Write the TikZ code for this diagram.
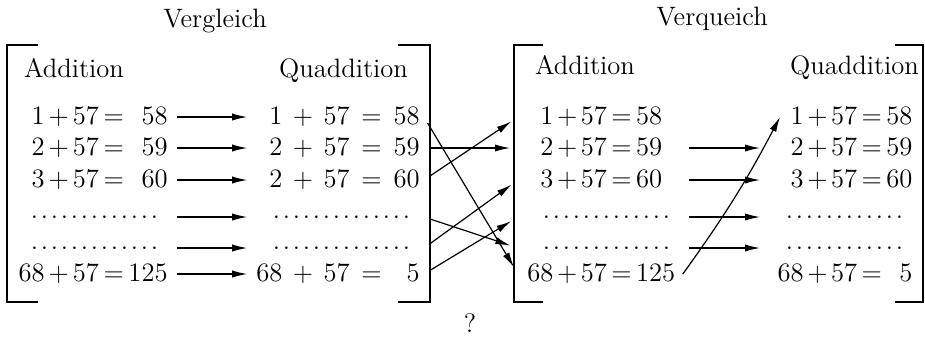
\documentclass[tikz,border=0pt]{standalone}
\usetikzlibrary{arrows.meta,positioning,calc}

\newcommand{\punkte}[1]{\hbox to #1{\leaders\hbox to 5pt{\hss.\hss}\hfill}}
% Rechnung: a + b = c mit Abstand um + (#4) und um = (#5)
\newcommand{\rechnung}[5]{\mbox{#1\hspace{#4}+\hspace{#4}#2\hspace{#5}=\hspace{#5}#3}}
\newcommand{\normal}[3]{\rechnung{#1}{#2}{#3}{2pt}{2.3pt}}
\newcommand{\weit}[3]{\rechnung{#1}{#2}{#3}{5.2pt}{5.9pt}}
\newcommand{\eng}[3]{\rechnung{#1}{#2}{#3}{1.8pt}{2.2pt}}

\begin{document}
\begin{tikzpicture}[
    x=0.5pt, y=-0.5pt,
    every node/.style={font=\fontsize{13.3}{16}\selectfont},
    kopf/.style={anchor=base},
    titel/.style={anchor=base west},
    links/.style={anchor=east, inner xsep=4.5pt, inner ysep=0pt},
    rechts/.style={anchor=east, text width=84pt, align=right, inner xsep=2pt, inner ysep=0pt},
    linksB/.style={anchor=west, text width=76pt, align=left, inner xsep=4.5pt, inner ysep=0pt},
    rechtsB/.style={anchor=west, text width=71pt, align=right, inner xsep=5pt, inner ysep=0pt},
    pfeil/.style={draw, line width=0.6pt, -{Latex[length=7.5pt,width=3.6pt]}},
    quer/.style={pfeil, shorten <=3.5pt, shorten >=4pt},
    klammer/.style={line width=0.7pt}
]
\useasboundingbox (0,0) rectangle (925,344);

% Ueberschriften
\node[kopf] (vergleich) at (215,27) {Vergleich};
\node[kopf] (verqueich) at (712,25) {Verqueich};

% linker Kasten
\draw[klammer] (38,45) -- (7,45) -- (7,302) -- (38,302);
\draw[klammer] (398,45) -- (430,45) -- (430,302) -- (398,302);

\node[titel] (addA) at (17,77) {Addition};
\node[titel] (quadA) at (272,77) {Quaddition};

\node[links] (la1) at (177,117) {\normal{1}{57}{\phantom{1}58}};
\node[links] (la2) at (177,148) {\normal{2}{57}{\phantom{1}59}};
\node[links] (la3) at (177,180) {\normal{3}{57}{\phantom{1}60}};
\node[links] (la4) at (177,217) {\punkte{69pt}};
\node[links] (la5) at (177,248) {\punkte{69pt}};
\node[links] (la6) at (177,274) {\normal{68}{57}{125}};

\node[rechts] (lb1) at (424,117) {\weit{1}{57}{58}};
\node[rechts] (lb2) at (424,148) {\weit{2}{57}{59}};
\node[rechts] (lb3) at (424,180) {\weit{2}{57}{60}};
\node[rechts] (lb4) at (424,217) {\punkte{74pt}};
\node[rechts] (lb5) at (424,248) {\punkte{74pt}};
\node[rechts] (lb6) at (424,274) {\weit{68}{57}{\phantom{0}5}};

% rechter Kasten
\draw[klammer] (543,45) -- (514,45) -- (514,302) -- (543,302);
\draw[klammer] (895,45) -- (923,45) -- (923,302) -- (895,302);

\node[titel] (addB) at (528,74) {Addition};
\node[titel] (quadB) at (783,74) {Quaddition};

\node[linksB] (ra1) at (518,117) {\eng{\phantom{6}1}{57}{58}};
\node[linksB] (ra2) at (518,148) {\eng{\phantom{6}2}{57}{59}};
\node[linksB] (ra3) at (518,180) {\eng{\phantom{6}3}{57}{60}};
\node[linksB] (ra4) at (518,217) {\hbox{\kern7pt\punkte{69pt}}};
\node[linksB] (ra5) at (518,248) {\hbox{\kern7pt\punkte{69pt}}};
\node[linksB] (ra6) at (518,274) {\eng{68}{57}{125}};

\node[rechtsB] (rb1) at (760,117) {\eng{1}{57}{58}};
\node[rechtsB] (rb2) at (760,148) {\eng{2}{57}{59}};
\node[rechtsB] (rb3) at (760,180) {\eng{3}{57}{60}};
\node[rechtsB] (rb4) at (760,217) {\punkte{64pt}};
\node[rechtsB] (rb5) at (760,248) {\punkte{64pt}};
\node[rechtsB] (rb6) at (760,274) {\eng{68}{57}{\phantom{0}5}};

\coordinate (ziel) at ([xshift=10pt]rb1.west);

\node (frage) at (470,323) {?};

% Pfeile
\path (la1) edge[pfeil] (lb1)
    (la2) edge[pfeil] (lb2)
    (la3) edge[pfeil] (lb3)
    (la4) edge[pfeil] (lb4)
    (la5) edge[pfeil] (lb5)
    (la6) edge[pfeil] (lb6);

\path (lb1.east) edge[quer] (ra6.west)
    (lb2.east) edge[quer] (ra2.west)
    (lb3.east) edge[quer] (ra1.west)
    (lb4.east) edge[quer] (ra5.west)
    (lb5.east) edge[quer] (ra3.west)
    (lb6.east) edge[quer] (ra4.west);

\path (ra2) edge[pfeil] (rb2)
    (ra3) edge[pfeil] (rb3)
    (ra4) edge[pfeil] (rb4)
    (ra5) edge[pfeil] (rb5);

\draw[pfeil] ([xshift=-3pt]ra6.east) to[bend right=4] (ziel);

\end{tikzpicture}
\end{document}
